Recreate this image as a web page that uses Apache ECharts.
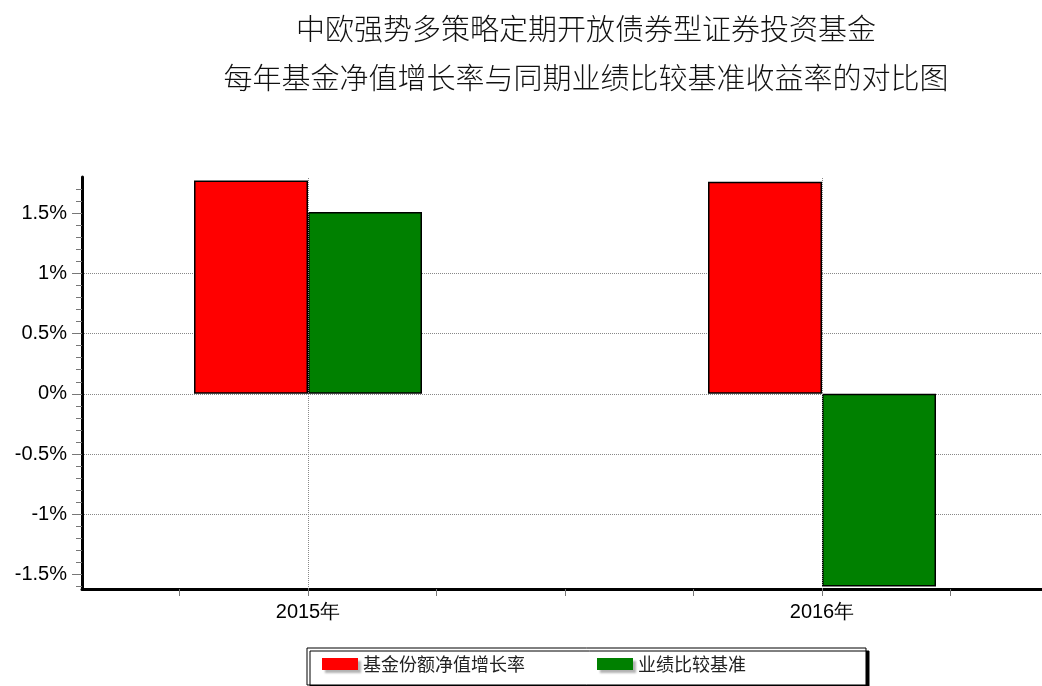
<!DOCTYPE html>
<html>
<head>
<meta charset="utf-8">
<script src="https://cdn.jsdelivr.net/npm/echarts@6/dist/echarts.min.js"></script>
<style>
  html, body { margin: 0; padding: 0; background: #fff; }
  #chart { width: 1042px; height: 686px; }
</style>
</head>
<body>
<div id="chart"></div>
<script>
// 数据
const titleLines = ['中欧强势多策略定期开放债券型证券投资基金', '每年基金净值增长率与同期业绩比较基准收益率的对比图']
const categories = ['2015年', '2016年']
const years = [2015, 2016]
const seriesNames = ['基金份额净值增长率', '业绩比较基准']
const fundGrowth = [1.77, 1.76]
const benchmarkReturn = [1.51, -1.60]
const yTicks = [-1.5, -1, -0.5, 0, 0.5, 1, 1.5]
const xTicks = [2014.75, 2015, 2015.25, 2015.5, 2015.75, 2016, 2016.25]

const chart = echarts.init(document.getElementById('chart'))

// x 轴像素换算：2015 -> 308px，2016 -> 822px
const plotLeft = 82
const plotRight = 1042
const pxPerYear = 822 - 308
const xMin = years[0] - (308 - plotLeft) / pxPerYear
const xMax = years[1] + (plotRight - 822) / pxPerYear

const font = 'Liberation Sans, Arial, sans-serif'

function toPairs(vals) {
  return vals.map((v, i) => [years[i], v])
}

const option = {
  animation: false,
  backgroundColor: '#fff',
  title: {
    text: titleLines.join('\n'),
    left: 581,
    top: -1,
    textAlign: 'center',
    textStyle: {
      fontFamily: 'Noto Sans CJK SC',
      fontWeight: 300,
      fontSize: 29,
      lineHeight: 49,
      color: '#111',
    },
  },
  grid: {
    left: plotLeft,
    right: 0,
    top: 177,
    bottom: 97,
  },
  legend: {
    left: 307,
    top: 648,
    padding: [7, 120, 12, 15],
    itemGap: 72,
    itemWidth: 36,
    itemHeight: 12,
    icon: 'rect',
    backgroundColor: '#fff',
    borderColor: '#000',
    borderWidth: 1,
    shadowColor: '#000',
    shadowOffsetX: 3,
    shadowOffsetY: 3,
    shadowBlur: 0,
    itemStyle: {
      borderWidth: 0,
      shadowColor: 'rgba(0,0,0,0.3)',
      shadowOffsetX: 3,
      shadowOffsetY: 3,
      shadowBlur: 2,
    },
    textStyle: {
      fontFamily: 'Noto Sans CJK SC',
      fontSize: 18,
      color: '#222',
    },
    data: seriesNames,
  },
  xAxis: {
    type: 'value',
    min: xMin,
    max: xMax,
    axisLine: { onZero: false, lineStyle: { color: '#000', width: 3 } },
    axisTick: {
      customValues: xTicks,
      length: 7,
      lineStyle: { color: '#777', width: 1 },
    },
    axisLabel: {
      customValues: years,
      margin: 13,
      fontFamily: font,
      fontSize: 20,
      color: '#000',
      formatter: (v) => {
        const i = years.indexOf(Math.round(v))
        return i >= 0 ? categories[i] : ''
      },
    },
    splitLine: { show: false },
  },
  yAxis: {
    type: 'value',
    min: -1.62,
    max: 1.8,
    axisLine: { show: true, onZero: false, lineStyle: { color: '#000', width: 3 } },
    axisTick: {
      customValues: yTicks,
      length: 10,
      lineStyle: { color: '#777', width: 1 },
    },
    minorTick: {
      show: true,
      splitNumber: 5,
      length: 6,
      lineStyle: { color: '#777', width: 1 },
    },
    axisLabel: {
      customValues: yTicks,
      margin: 15,
      fontFamily: font,
      fontSize: 20,
      color: '#000',
      formatter: (v) => v + '%',
    },
    splitLine: {
      show: true,
      showMinLine: false,
      showMaxLine: false,
      lineStyle: { color: '#888', type: 'dotted', width: 1 },
    },
  },
  series: [
    {
      // 类目处的竖向网格线，放在柱子下面
      name: 'grid-x',
      type: 'line',
      data: [],
      z: 1,
      silent: true,
      markLine: {
        silent: true,
        symbol: 'none',
        label: { show: false },
        lineStyle: { color: '#888', type: 'dotted', width: 1 },
        data: years.map((y) => ({ xAxis: y })),
      },
    },
    {
      name: seriesNames[0],
      type: 'bar',
      z: 3,
      data: toPairs(fundGrowth),
      barWidth: 114,
      barGap: '0%',
      itemStyle: { color: '#FF0000', borderColor: '#000', borderWidth: 1.5 },
    },
    {
      name: seriesNames[1],
      type: 'bar',
      z: 3,
      data: toPairs(benchmarkReturn),
      barWidth: 114,
      barGap: '0%',
      itemStyle: { color: '#008000', borderColor: '#000', borderWidth: 1.5 },
    },
  ],
}

chart.setOption(option)
</script>
</body>
</html>
